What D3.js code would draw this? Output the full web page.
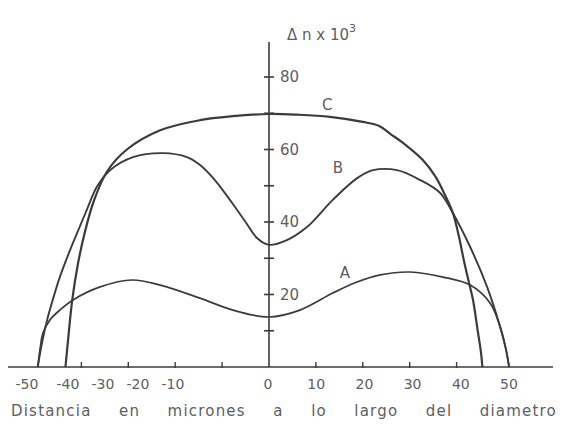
<!DOCTYPE html>
<html>
<head>
<meta charset="utf-8">
<script src="https://cdn.jsdelivr.net/npm/d3@7"></script>
<style>
  body { margin: 0; background: #fff; }
  svg { display: block; }
</style>
</head>
<body>
<svg id="chart" width="569" height="429"></svg>
<script>
// Birefringence profiles (Δn × 10³) across the fibre diameter (µm)
const curveA = [[-49.3,0],[-48.7,6],[-48.2,9.4],[-46.7,13],[-44.5,15.8],[-41.8,18.5],[-36,22.1],[-29.2,24],
  [-23.2,22.6],[-14.7,19],[-7.7,15.7],[0,13.8],[6.6,15.7],[13.6,20.4],[18.5,23.3],[23.7,25.4],[30.1,26.2],
  [37.1,24.8],[42.9,22.6],[47.1,17.7],[49.3,11],[50.5,5],[51.2,0]];
const curveB = [[-49.3,0],[-48.5,6],[-47.3,13],[-46,19],[-44.6,24.8],[-42.8,31],[-40.9,37],[-38.8,43.5],
  [-36.7,49.7],[-33.9,54.3],[-29,57.9],[-22.6,59],[-17.5,57.9],[-14.7,55.7],[-11.5,51.5],[-8,45.5],[-5,40],
  [-2.5,35.5],[0,33.7],[3.8,35],[8.1,38.6],[13.6,46.1],[18.8,52.1],[22.2,54.3],[27.3,54.3],[32.2,51.6],
  [36.5,48],[39.2,42.5],[42.9,33.1],[46.5,22.1],[49.3,11],[50.5,5],[51.2,0]];
const curveC = [[-43.4,0],[-42.8,8],[-42,18],[-40.8,28],[-39.3,37],[-37.3,46],[-34.5,54],[-30.3,60],
  [-23.2,65.3],[-14.7,68.1],[-7.7,69.2],[0,69.8],[6,69.6],[13,69],[20,67.6],[23.5,66.5],[26,64.2],
  [28.6,61.8],[32.8,57.1],[35.5,52.5],[37.5,47.5],[39.2,42.5],[40.5,36],[41.4,30.3],[42.5,24],
  [43.5,18.5],[44.5,10],[45.2,4],[45.5,0]];

const xTicks = [-40, -30, -20, -10, 10, 20, 30, 40];
const xTickLabels = [-50, -40, -30, -20, -10, 0, 10, 20, 30, 40, 50];
const yTicks = [10, 20, 30, 40, 50, 60, 70, 80];
const yTickLabels = [20, 40, 60, 80];
const xTitle = "Distancia en micrones a lo largo del diametro";

const svg = d3.select("#chart");
const ink = "#3b3b3b";
const letterInk = "#5e5e5e";
const font = "'DejaVu Sans', sans-serif";

const x = d3.scaleLinear().domain([-50, 50]).range([34.5, 503.5]);
const y = d3.scaleLinear().domain([0, 80]).range([367, 77]);
// the lettered numbers on the negative side sit left of their ticks
const xLabelPos = d3.scaleLinear().domain([-50, -40, -10, 0, 50]).range([27, 68, 173, 268, 509]);

// baseline
svg.append("line")
  .attr("x1", 8).attr("x2", 553)
  .attr("y1", y(0)).attr("y2", y(0))
  .attr("stroke", ink).attr("stroke-width", 1.6);

// x tick marks
svg.append("g").selectAll("line").data(xTicks).join("line")
  .attr("x1", d => x(d)).attr("x2", d => x(d))
  .attr("y1", y(0) - 5).attr("y2", y(0) + 1)
  .attr("stroke", ink).attr("stroke-width", 1.4);

// x tick numbers
svg.append("g").selectAll("text").data(xTickLabels).join("text")
  .attr("x", d => xLabelPos(d))
  .attr("y", 384)
  .attr("text-anchor", "middle")
  .attr("dominant-baseline", "central")
  .attr("font-family", font).attr("font-size", 14)
  .attr("fill", letterInk)
  .text(d => d);

// vertical axis at x = 0
svg.append("line")
  .attr("x1", x(0)).attr("x2", x(0))
  .attr("y1", y(0)).attr("y2", 42)
  .attr("stroke", ink).attr("stroke-width", 1.6);

svg.append("g").selectAll("line").data(yTicks).join("line")
  .attr("x1", x(0) - 5).attr("x2", x(0) + 5)
  .attr("y1", d => y(d)).attr("y2", d => y(d))
  .attr("stroke", ink).attr("stroke-width", 1.6);

svg.append("g").selectAll("text").data(yTickLabels).join("text")
  .attr("x", x(0) + 11)
  .attr("y", d => y(d))
  .attr("dominant-baseline", "central")
  .attr("font-family", font).attr("font-size", 15)
  .attr("fill", letterInk)
  .text(d => d);

// axis quantity
const yTitle = svg.append("text")
  .attr("x", 287).attr("y", 40)
  .attr("font-family", font).attr("font-size", 15)
  .attr("fill", letterInk);
yTitle.append("tspan").text("Δ n x 10");
yTitle.append("tspan").attr("dy", -8).attr("font-size", 11).text("3");

// curves
const line = d3.line()
  .x(d => x(d[0])).y(d => y(d[1]))
  .curve(d3.curveCatmullRom.alpha(0.5));

const curves = [
  { name: "A", data: curveA, w: 1.7, at: [16.2, 25.9] },
  { name: "B", data: curveB, w: 1.9, at: [14.7, 54.9] },
  { name: "C", data: curveC, w: 2.2, at: [12.4, 72.3] }
];

svg.append("g").selectAll("path").data(curves).join("path")
  .attr("d", d => line(d.data))
  .attr("fill", "none")
  .attr("stroke", ink)
  .attr("stroke-width", d => d.w)
  .attr("stroke-linejoin", "round");

svg.append("g").selectAll("text").data(curves).join("text")
  .attr("x", d => x(d.at[0]))
  .attr("y", d => y(d.at[1]))
  .attr("text-anchor", "middle")
  .attr("dominant-baseline", "central")
  .attr("font-family", font).attr("font-size", 15)
  .attr("fill", letterInk)
  .text(d => d.name);

// axis title, spread across the width
const title = svg.append("text")
  .attr("x", 11).attr("y", 411)
  .attr("dominant-baseline", "central")
  .attr("font-family", font).attr("font-size", 15)
  .attr("letter-spacing", 1.2)
  .attr("fill", letterInk)
  .text(xTitle);
const natural = title.node().getComputedTextLength();
const gaps = xTitle.split(" ").length - 1;
title.attr("word-spacing", Math.max(0, (546 - natural) / gaps));
</script>
</body>
</html>
